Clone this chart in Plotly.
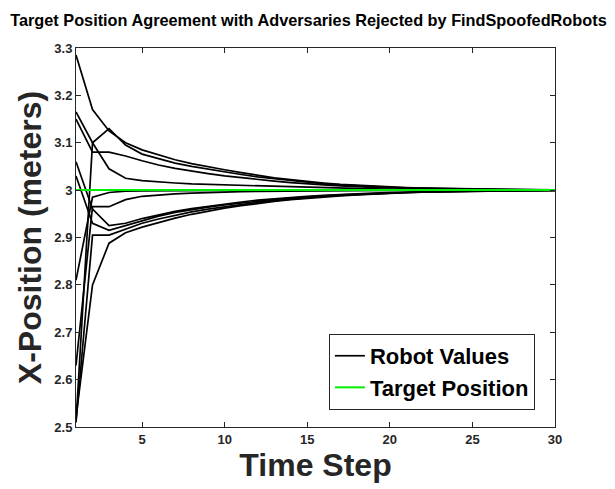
import plotly.graph_objects as go

# time steps 1..30
steps = list(range(1, 31))

# robot position estimates (one list per robot)
robot_1 = [3.285, 3.170, 3.125, 3.100, 3.085, 3.074, 3.064, 3.056, 3.049, 3.043,
           3.037, 3.031, 3.026, 3.022, 3.018, 3.015, 3.012, 3.010, 3.008, 3.0065,
           3.0052, 3.0042, 3.0034, 3.0027, 3.0021, 3.0017, 3.0013, 3.0010, 3.0008, 3.0006]
robot_2 = [2.510, 3.100, 3.130, 3.095, 3.076, 3.066, 3.057, 3.050, 3.044, 3.038,
           3.033, 3.028, 3.024, 3.020, 3.016, 3.013, 3.011, 3.009, 3.007, 3.0058,
           3.0047, 3.0038, 3.0031, 3.0025, 3.0020, 3.0016, 3.0012, 3.0010, 3.0008, 3.0006]
robot_3 = [3.150, 3.080, 3.080, 3.072, 3.062, 3.053, 3.046, 3.040, 3.035, 3.030,
           3.026, 3.022, 3.019, 3.016, 3.013, 3.011, 3.009, 3.007, 3.006, 3.005,
           3.004, 3.0032, 3.0026, 3.0021, 3.0017, 3.0013, 3.0011, 3.0009, 3.0007, 3.0005]
robot_4 = [3.165, 3.100, 3.045, 3.025, 3.020, 3.017, 3.015, 3.013, 3.012, 3.010,
           3.009, 3.008, 3.007, 3.006, 3.005, 3.0043, 3.0036, 3.0030, 3.0025, 3.0021,
           3.0017, 3.0014, 3.0012, 3.0010, 3.0008, 3.0007, 3.0006, 3.0005, 3.0004, 3.0003]
robot_5 = [3.060, 2.960, 2.925, 2.930, 2.940, 2.948, 2.955, 2.961, 2.966, 2.971,
           2.975, 2.979, 2.982, 2.985, 2.987, 2.989, 2.991, 2.9925, 2.9938, 2.995,
           2.996, 2.9967, 2.9973, 2.9978, 2.9982, 2.9986, 2.9989, 2.9991, 2.9993, 2.9994]
robot_6 = [2.630, 2.965, 2.965, 2.980, 2.987, 2.990, 2.992, 2.9935, 2.995, 2.996,
           2.9967, 2.9973, 2.9978, 2.9982, 2.9985, 2.9988, 2.9990, 2.9992, 2.9993, 2.9994,
           2.9995, 2.9996, 2.9997, 2.9997, 2.9998, 2.9998, 2.9998, 2.9999, 2.9999, 2.9999]
robot_7 = [2.810, 2.985, 2.995, 2.998, 2.9985, 2.999, 2.9992, 2.9993, 2.9994, 2.9995,
           2.9996, 2.9996, 2.9997, 2.9997, 2.9998, 2.9998, 2.9998, 2.9999, 2.9999, 2.9999,
           2.9999, 2.9999, 3.0, 3.0, 3.0, 3.0, 3.0, 3.0, 3.0, 3.0]
robot_8 = [2.520, 2.800, 2.888, 2.910, 2.922, 2.932, 2.941, 2.949, 2.956, 2.962,
           2.967, 2.972, 2.976, 2.980, 2.983, 2.986, 2.988, 2.990, 2.9918, 2.9933,
           2.9945, 2.9955, 2.9963, 2.9970, 2.9976, 2.9980, 2.9984, 2.9987, 2.9990, 2.9992]
robot_9 = [2.510, 2.905, 2.905, 2.918, 2.930, 2.939, 2.947, 2.954, 2.960, 2.965,
           2.970, 2.974, 2.978, 2.9815, 2.9845, 2.987, 2.989, 2.991, 2.9925, 2.9938,
           2.995, 2.996, 2.9967, 2.9973, 2.9978, 2.9982, 2.9985, 2.9988, 2.9990, 2.9992]
robot_10 = [3.030, 2.930, 2.915, 2.925, 2.936, 2.945, 2.953, 2.959, 2.964, 2.969,
            2.973, 2.977, 2.980, 2.983, 2.986, 2.988, 2.990, 2.9915, 2.993, 2.9942,
            2.9952, 2.996, 2.9967, 2.9973, 2.9978, 2.9982, 2.9985, 2.9988, 2.9990, 2.9992]

robots = [robot_1, robot_2, robot_3, robot_4, robot_5,
          robot_6, robot_7, robot_8, robot_9, robot_10]

target = 3.0

FONT = "Liberation Sans, Arial, sans-serif"
AXIS_COLOR = "#262626"

fig = go.Figure()

for i, vals in enumerate(robots):
    fig.add_trace(go.Scatter(
        x=steps, y=vals, mode="lines",
        line=dict(color="black", width=1.7),
        name="Robot Values", legendgroup="robots",
        showlegend=(i == 0),
    ))

fig.add_trace(go.Scatter(
    x=steps, y=[target] * len(steps), mode="lines",
    line=dict(color="#00ee00", width=2),
    name="Target Position",
))

axis_common = dict(
    showline=True, linecolor=AXIS_COLOR, linewidth=1, mirror="ticks",
    ticks="inside", ticklen=5, tickcolor=AXIS_COLOR,
    showgrid=False, zeroline=False, automargin=False,
    tickfont=dict(family=FONT, size=13, color=AXIS_COLOR, weight="bold"),
)

fig.update_xaxes(
    range=[1, 30], tickvals=[5, 10, 15, 20, 25, 30],
    title=dict(text="Time Step", standoff=8,
               font=dict(family=FONT, size=32, color=AXIS_COLOR, weight="bold")),
    **axis_common,
)
fig.update_yaxes(
    range=[2.5, 3.3], dtick=0.1,
    title=dict(text="X-Position (meters)", standoff=3,
               font=dict(family=FONT, size=32, color=AXIS_COLOR, weight="bold")),
    **axis_common,
)

# page body has an 8px margin, so the figure is 8px smaller than the window
fig.update_layout(
    width=607, height=481,
    paper_bgcolor="white", plot_bgcolor="white",
    margin=dict(l=68, r=60, t=40, b=62),
    title=dict(text="Target Position Agreement with Adversaries Rejected by FindSpoofedRobots",
               x=0.495, xanchor="center", y=0.975, yanchor="middle",
               font=dict(family=FONT, size=16.3, color="black", weight="bold")),
    legend=dict(
        x=0.958, y=0.045, xanchor="right", yanchor="bottom",
        bgcolor="white", bordercolor=AXIS_COLOR, borderwidth=1,
        font=dict(family=FONT, size=22, color="black", weight="bold"),
        tracegroupgap=0, itemwidth=30,
    ),
    showlegend=True,
)

fig.write_html("out.html")
